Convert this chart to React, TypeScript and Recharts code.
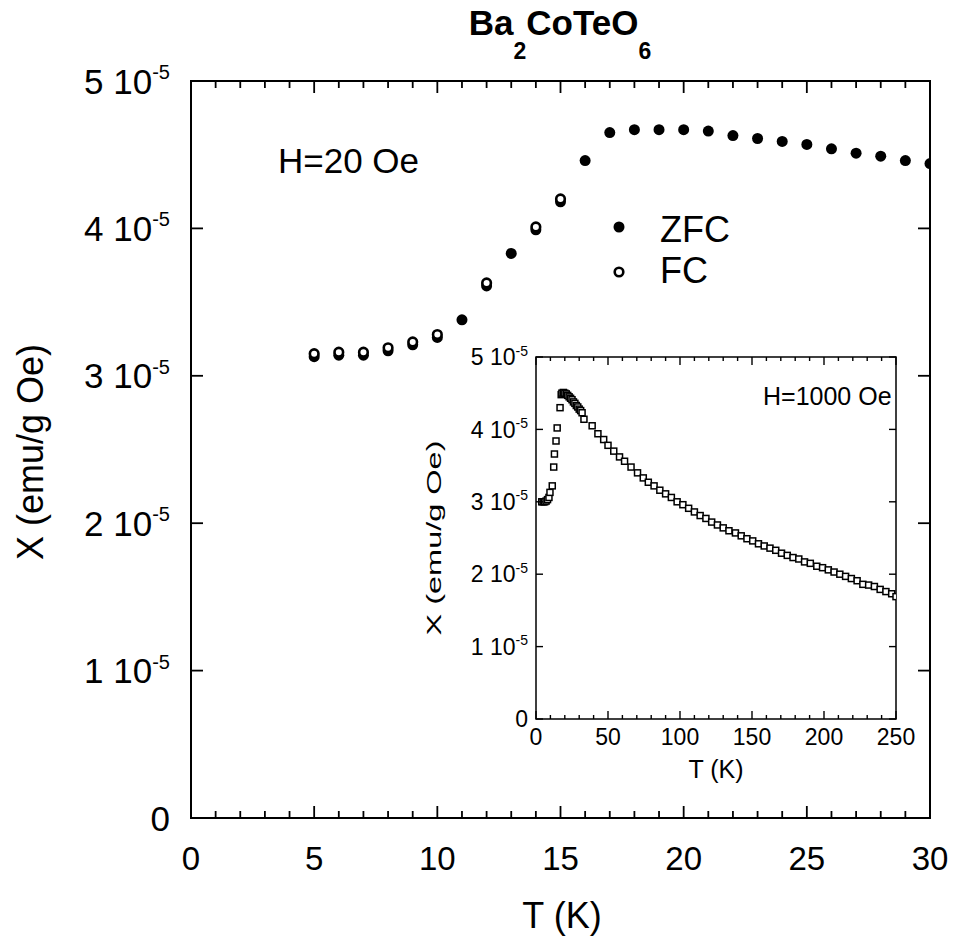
import { ScatterChart, Scatter, XAxis, YAxis, ReferenceArea } from "recharts"

const FONT = "Arial, 'Liberation Sans', sans-serif"

// main panel, H = 20 Oe. chi in units of 1e-5 emu/g Oe
const zfcT = [5, 6, 7, 8, 9, 10, 11, 12, 13, 14, 15, 16, 17, 18, 19, 20, 21, 22, 23, 24, 25, 26, 27, 28, 29, 30]
const zfcChi = [
  3.13, 3.14, 3.14, 3.17, 3.21, 3.26, 3.38, 3.61, 3.83, 3.99, 4.18, 4.46, 4.65, 4.67, 4.67, 4.67, 4.66, 4.63,
  4.61, 4.59, 4.57, 4.54, 4.51, 4.49, 4.46, 4.44,
]
const fcT = [5, 6, 7, 8, 9, 10, 12, 14, 15]
const fcChi = [3.15, 3.16, 3.16, 3.19, 3.23, 3.28, 3.63, 4.01, 4.2]

const mainXTicks = Array.from({ length: 31 }, (_, i) => i)
const mainYTicks = [0, 1, 2, 3, 4, 5]

// inset, H = 1000 Oe
const insetT = [
  4, 5, 6, 7, 8, 9, 9.7, 11.3, 12.3, 12.8, 13.9, 14.7, 16.7, 17.5, 18, 19, 20, 21, 22, 23, 24, 25, 26, 27, 28,
  29, 30, 31, 32, 33.3, 39, 43, 47, 50, 54, 58, 61.5, 66, 70.5, 74.5, 78, 82, 86, 90, 94, 98, 102, 106, 110, 114,
  118, 122, 126, 130, 134, 138.5, 142.5, 146.5, 150.5, 154.5, 158.5, 162.5, 166.5, 170.5, 174.5, 178.5, 182.5,
  186.5, 190.5, 195, 199, 203, 207, 211, 215, 219, 223, 227, 231, 235, 239, 243, 247, 250,
]
const insetChi = [
  3.0, 3.0, 3.0, 3.01, 3.03, 3.06, 3.13, 3.22, 3.48, 3.66, 3.84, 4.02, 4.3, 4.48, 4.5, 4.51, 4.5, 4.49, 4.47,
  4.45, 4.43, 4.41, 4.38, 4.36, 4.33, 4.31, 4.28, 4.26, 4.23, 4.14, 4.05, 3.94, 3.86, 3.78, 3.7, 3.62, 3.56, 3.48,
  3.4, 3.33, 3.27, 3.22, 3.16, 3.11, 3.06, 3.0, 2.96, 2.91, 2.86, 2.81, 2.77, 2.72, 2.68, 2.64, 2.6, 2.57, 2.53,
  2.49, 2.46, 2.42, 2.39, 2.36, 2.33, 2.29, 2.26, 2.23, 2.21, 2.17, 2.15, 2.11, 2.09, 2.06, 2.03, 2.0, 1.97, 1.94,
  1.91, 1.86, 1.85, 1.83, 1.79, 1.76, 1.73, 1.69,
]
const insetXTicks = Array.from({ length: 26 }, (_, i) => i * 10)
const insetYTicks = [0, 1, 2, 3, 4, 5]

const zfcData = zfcT.map((t, i) => ({ t, chi: zfcChi[i] }))
const fcData = fcT.map((t, i) => ({ t, chi: fcChi[i] }))
const insetData = insetT.map((t, i) => ({ t, chi: insetChi[i] }))

// plot frames (pixel boxes set by the chart margins below)
const MAIN = { left: 191, top: 81, right: 930, bottom: 818, xMax: 30, yMax: 5 }
const INSET = { left: 536, top: 357, right: 896, bottom: 719, xMax: 250, yMax: 5 }

function makeXTick(major: number, lenMaj: number, lenMin: number, fs: number, off: number, sw: number) {
  return (props: any) => {
    const { x, y, payload } = props
    const v = payload.value
    const isMaj = v % major === 0
    const len = isMaj ? lenMaj : lenMin
    return (
      <g>
        <line x1={x} x2={x} y1={y} y2={y - len} stroke="#000" strokeWidth={sw} />
        {isMaj && (
          <text x={x} y={y + off} textAnchor="middle" fontSize={fs} fontFamily={FONT} fill="#000">
            {v}
          </text>
        )}
      </g>
    )
  }
}

function makeYTick(len: number, fs: number, sup: number, gap: number, sw: number) {
  return (props: any) => {
    const { x, y, payload } = props
    const v = payload.value
    return (
      <g>
        <line x1={x} x2={x + len} y1={y} y2={y} stroke="#000" strokeWidth={sw} />
        <text x={x - gap} y={y} dy="0.36em" textAnchor="end" fontSize={fs} fontFamily={FONT} fill="#000">
          {v === 0 ? (
            "0"
          ) : (
            <>
              <tspan>{v} 10</tspan>
              <tspan dy={-fs * 0.42} fontSize={sup}>
                -5
              </tspan>
            </>
          )}
        </text>
      </g>
    )
  }
}

// mirrored inward ticks on the top and right sides of a frame
function MirrorTicks({ box, xTicks, yTicks, major, lenMaj, lenMin, yLen, sw }: any) {
  const w = box.right - box.left
  const h = box.bottom - box.top
  return (
    <g>
      {xTicks.map((t: number) => {
        const x = box.left + (t / box.xMax) * w
        const len = t % major === 0 ? lenMaj : lenMin
        return (
          <line key={"x" + t} x1={x} x2={x} y1={box.top} y2={box.top + len} stroke="#000" strokeWidth={sw} />
        )
      })}
      {yTicks.map((v: number) => {
        const y = box.bottom - (v / box.yMax) * h
        return (
          <line key={"y" + v} x1={box.right} x2={box.right - yLen} y1={y} y2={y} stroke="#000" strokeWidth={sw} />
        )
      })}
    </g>
  )
}

const dot = (props: any) => <circle cx={props.cx} cy={props.cy} r={5.5} fill="#000" />
const ring = (props: any) => <circle cx={props.cx} cy={props.cy} r={4.3} fill="#fff" stroke="#000" strokeWidth={2.6} />
const square = (props: any) => (
  <rect x={props.cx - 3} y={props.cy - 3} width={6} height={6} fill="#fff" stroke="#000" strokeWidth={1.5} />
)

export default function App() {
  return (
    <div style={{ position: "absolute", left: 0, top: 0, width: 954, height: 950, background: "#fff" }}>
      <div style={{ position: "absolute", left: 0, top: 0 }}>
        <ScatterChart width={954} height={950} margin={{ top: 81, right: 24, bottom: 72, left: 91 }}>
          <XAxis
            type="number"
            dataKey="t"
            domain={[0, 30]}
            ticks={mainXTicks}
            interval={0}
            height={60}
            tickSize={0}
            tickMargin={0}
            tickLine={false}
            axisLine={false}
            tick={makeXTick(5, 12, 7, 33, 52, 1.8)}
            allowDataOverflow
          />
          <YAxis
            type="number"
            dataKey="chi"
            domain={[0, 5]}
            ticks={mainYTicks}
            interval={0}
            width={100}
            tickSize={0}
            tickMargin={0}
            tickLine={false}
            axisLine={false}
            tick={makeYTick(12, 35, 20, 21, 1.8)}
            allowDataOverflow
          />
          <ReferenceArea x1={0} x2={30} y1={0} y2={5} fill="none" stroke="#000" strokeWidth={2} />
          <Scatter name="ZFC" data={zfcData} shape={dot} isAnimationActive={false} />
          <Scatter name="FC" data={fcData} shape={ring} isAnimationActive={false} />
        </ScatterChart>
      </div>

      <div style={{ position: "absolute", left: 380, top: 330 }}>
        <ScatterChart width={540} height={460} margin={{ top: 27, right: 24, bottom: 31, left: 116 }}>
          <XAxis
            type="number"
            dataKey="t"
            domain={[0, 250]}
            ticks={insetXTicks}
            interval={0}
            height={40}
            tickSize={0}
            tickMargin={0}
            tickLine={false}
            axisLine={false}
            tick={makeXTick(50, 8, 4, 23, 26, 1.4)}
            allowDataOverflow
          />
          <YAxis
            type="number"
            dataKey="chi"
            domain={[0, 5]}
            ticks={insetYTicks}
            interval={0}
            width={40}
            tickSize={0}
            tickMargin={0}
            tickLine={false}
            axisLine={false}
            tick={makeYTick(7, 23, 14, 8, 1.4)}
            allowDataOverflow
          />
          <ReferenceArea x1={0} x2={250} y1={0} y2={5} fill="none" stroke="#000" strokeWidth={1.5} />
          <Scatter name="H=1000 Oe" data={insetData} shape={square} isAnimationActive={false} />
        </ScatterChart>
      </div>

      <svg
        width={954}
        height={950}
        style={{ position: "absolute", left: 0, top: 0, pointerEvents: "none" }}
        fontFamily={FONT}
        fill="#000"
      >
        <MirrorTicks box={MAIN} xTicks={mainXTicks} yTicks={mainYTicks} major={5} lenMaj={12} lenMin={7} yLen={12} sw={1.8} />
        <MirrorTicks box={INSET} xTicks={insetXTicks} yTicks={insetYTicks} major={50} lenMaj={8} lenMin={4} yLen={7} sw={1.4} />
        <text x={560} y={35} textAnchor="middle" fontSize={35} fontWeight="bold">
          Ba
          <tspan fontSize={23} dy={24}>
            2
          </tspan>
          <tspan dy={-24}>CoTeO</tspan>
          <tspan fontSize={23} dy={24}>
            6
          </tspan>
        </text>
        <text transform="translate(43,452) rotate(-90)" textAnchor="middle" fontSize={36}>
          X (emu/g Oe)
        </text>
        <text x={562} y={928} textAnchor="middle" fontSize={36}>
          T (K)
        </text>
        <text x={278} y={173} fontSize={35}>
          H=20 Oe
        </text>
        <circle cx={619} cy={227} r={5.5} fill="#000" />
        <text x={660} y={242} fontSize={36}>
          ZFC
        </text>
        <circle cx={619} cy={272} r={4.3} fill="#fff" stroke="#000" strokeWidth={2.6} />
        <text x={660} y={283} fontSize={36}>
          FC
        </text>
        <text x={763} y={405} fontSize={25}>
          H=1000 Oe
        </text>
        <text x={716} y={778} textAnchor="middle" fontSize={25}>
          T (K)
        </text>
        <text
          transform="translate(441,538) rotate(-90)"
          textAnchor="middle"
          fontSize={20}
          textLength={195}
          lengthAdjust="spacingAndGlyphs"
        >
          X (emu/g Oe)
        </text>
      </svg>
    </div>
  )
}
